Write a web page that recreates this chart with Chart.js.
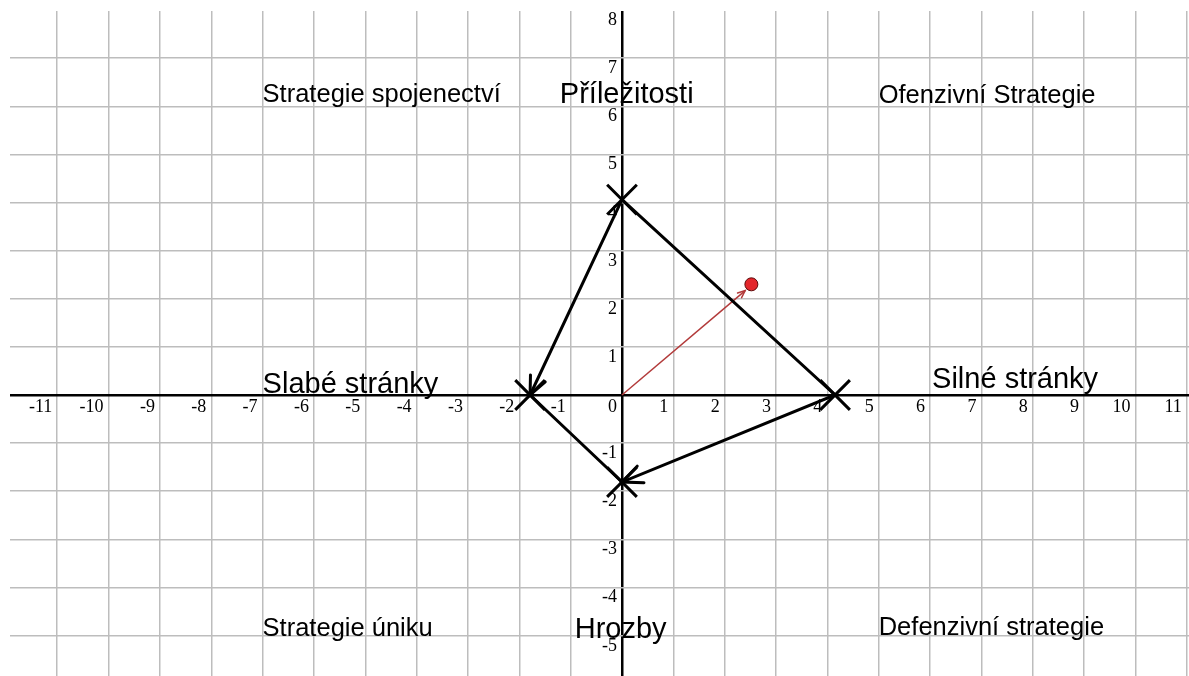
<!DOCTYPE html>
<html>
<head>
<meta charset="utf-8">
<script src="https://cdn.jsdelivr.net/npm/chart.js@4.4.0/dist/chart.umd.min.js"></script>
<style>
html, body { margin: 0; padding: 0; background: #fff; }
canvas { display: block; }
</style>
</head>
<body>
<canvas id="swot" width="1189" height="676"></canvas>
<script>
// axis tick labels
const xTicks = [-11, -10, -9, -8, -7, -6, -5, -4, -3, -2, -1, 0, 1, 2, 3, 4, 5, 6, 7, 8, 9, 10, 11];
const yTicks = [8, 7, 6, 5, 4, 3, 2, 1, -1, -2, -3, -4, -5];

// SWOT quadrilateral: top, left, bottom, right, back to top
const vertexX = [0, -1.79, 0, 4.15, 0];
const vertexY = [4.06, 0, -1.81, 0, 4.06];

// resulting vector and its point
const vectorX = [0, 2.4];
const vectorY = [0, 2.17];
const targetX = [2.52];
const targetY = [2.3];

// texts placed on the plane (data coordinates of left/baseline)
const strategyTexts = ['Strategie spojenectví', 'Ofenzivní Strategie', 'Strategie úniku', 'Defenzivní strategie'];
const strategyX = [-7, 5, -7, 5];
const strategyY = [6.08, 6.06, -5.0, -4.98];
const factorTexts = ['Příležitosti', 'Slabé stránky', 'Silné stránky', 'Hrozby'];
const factorX = [-1.21, -7, 6.04, -0.92];
const factorY = [6.07, 0.04, 0.15, -5.04];

function toPoints(xs, ys) {
    return xs.map((v, i) => ({ x: v, y: ys[i] }));
}

function drawArrowHead(ctx, fx, fy, tx, ty, len, spread) {
    const a = Math.atan2(ty - fy, tx - fx);
    ctx.beginPath();
    ctx.moveTo(tx - len * Math.cos(a - spread), ty - len * Math.sin(a - spread));
    ctx.lineTo(tx, ty);
    ctx.lineTo(tx - len * Math.cos(a + spread), ty - len * Math.sin(a + spread));
    ctx.stroke();
}

const planeText = {
    id: 'planeText',
    beforeDatasetsDraw(chart) {
        const { ctx, scales: { x, y } } = chart;
        const x0 = x.getPixelForValue(0);
        const y0 = y.getPixelForValue(0);
        ctx.save();
        ctx.fillStyle = '#000';
        ctx.textBaseline = 'alphabetic';
        ctx.textAlign = 'right';
        ctx.font = '18px "Liberation Serif", "DejaVu Serif", serif';
        xTicks.forEach(v => ctx.fillText(String(v), x.getPixelForValue(v) - 5, y0 + 17));
        yTicks.forEach(v => ctx.fillText(String(v), x0 - 5, y.getPixelForValue(v) + 15));

        ctx.textAlign = 'left';
        ctx.font = '25.5px "Liberation Sans", Arial, sans-serif';
        strategyTexts.forEach((t, i) => {
            ctx.fillText(t, x.getPixelForValue(strategyX[i]), y.getPixelForValue(strategyY[i]));
        });
        ctx.font = '29px "Liberation Sans", Arial, sans-serif';
        factorTexts.forEach((t, i) => {
            ctx.fillText(t, x.getPixelForValue(factorX[i]), y.getPixelForValue(factorY[i]));
        });
        ctx.restore();
    },
    afterDatasetsDraw(chart) {
        const ctx = chart.ctx;
        const edges = chart.getDatasetMeta(0).data;
        const vec = chart.getDatasetMeta(2).data;
        ctx.save();
        ctx.lineCap = 'round';
        ctx.strokeStyle = '#000';
        ctx.lineWidth = 3;
        drawArrowHead(ctx, edges[0].x, edges[0].y, edges[1].x, edges[1].y, 20, 0.42);
        drawArrowHead(ctx, edges[3].x, edges[3].y, edges[2].x, edges[2].y, 22, 0.42);
        ctx.strokeStyle = '#b23a3a';
        ctx.lineWidth = 1.5;
        drawArrowHead(ctx, vec[0].x, vec[0].y, vec[1].x, vec[1].y, 8, 0.4);
        ctx.restore();
    }
};

const gridColor = ctx => (ctx.tick && ctx.tick.value === 0 ? '#000' : '#bdbdbd');
const gridWidth = ctx => (ctx.tick && ctx.tick.value === 0 ? 2.5 : 1.5);

new Chart(document.getElementById('swot').getContext('2d'), {
    type: 'scatter',
    data: {
        datasets: [{
            label: 'SWOT',
            data: toPoints(vertexX, vertexY),
            showLine: true,
            borderColor: '#000',
            borderWidth: 3,
            pointRadius: 0,
            tension: 0
        }, {
            label: 'Vrcholy',
            data: toPoints(vertexX.slice(0, 4), vertexY.slice(0, 4)),
            showLine: false,
            pointStyle: 'crossRot',
            pointRadius: 21,
            pointBorderWidth: 3,
            borderColor: '#000',
            backgroundColor: '#000'
        }, {
            label: 'Vektor',
            data: toPoints(vectorX, vectorY),
            showLine: true,
            borderColor: '#b23a3a',
            borderWidth: 1.5,
            pointRadius: 0
        }, {
            label: 'Bod',
            data: toPoints(targetX, targetY),
            showLine: false,
            pointRadius: 6.5,
            backgroundColor: '#e3262b',
            borderColor: '#5a0a0a',
            pointBorderWidth: 1
        }]
    },
    options: {
        responsive: false,
        animation: false,
        layout: { autoPadding: false, padding: { left: 10, top: 11, right: 0, bottom: 0 } },
        plugins: {
            legend: { display: false },
            tooltip: { enabled: false }
        },
        scales: {
            x: {
                type: 'linear',
                min: -11.92,
                max: 11.044,
                ticks: { display: false, stepSize: 1, includeBounds: false },
                grid: { color: gridColor, lineWidth: gridWidth, drawTicks: false },
                border: { display: false }
            },
            y: {
                type: 'linear',
                min: -5.84,
                max: 7.98,
                ticks: { display: false, stepSize: 1, includeBounds: false },
                grid: { color: gridColor, lineWidth: gridWidth, drawTicks: false },
                border: { display: false }
            }
        }
    },
    plugins: [planeText]
});
</script>
</body>
</html>
